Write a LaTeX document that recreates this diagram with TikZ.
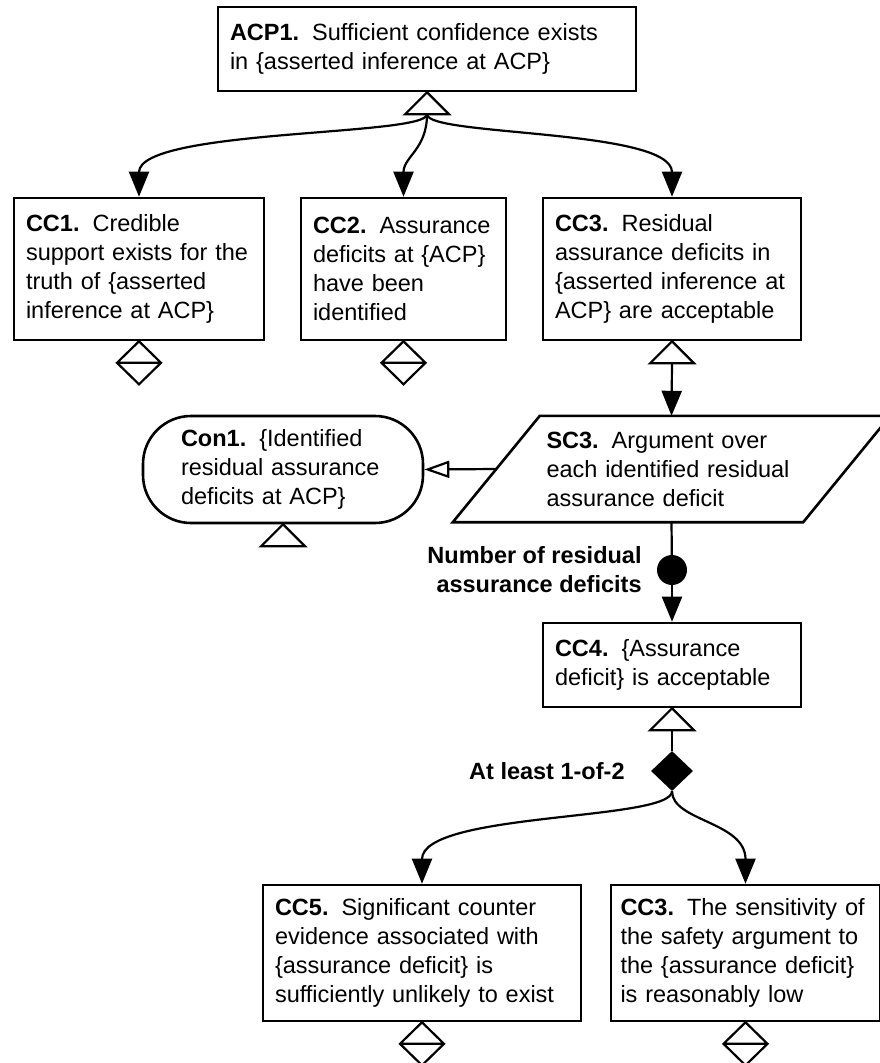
\documentclass[tikz,border=0pt]{standalone}
\usepackage{fontspec}
\setmainfont{Liberation Sans}
\usetikzlibrary{positioning,shapes.geometric,arrows.meta}

\newcommand{\gsnfont}{\fontsize{23.5}{29}\selectfont}
\newcommand{\gid}[1]{\textbf{#1}\nobreak\hspace{13pt}}

\tikzset{
  claim/.style={draw, line width=2.6pt, align=left, inner xsep=12pt, inner ysep=0pt},
  context/.style={claim, rounded corners=48pt, inner xsep=38pt},
  strategy/.style={align=left, inner xsep=50pt, inner ysep=0pt},
  link/.style={line width=2.2pt, -{Triangle[length=25pt,width=20pt]}},
  ctxlink/.style={line width=2.2pt, -{Triangle[open,length=25pt,width=17pt,fill=white]}},
  gsnmark/.style={line width=2.2pt, line join=miter},
  annot/.style={font={\gsnfont\bfseries}, align=right, inner sep=0pt},
}

\begin{document}
\begin{tikzpicture}[x=1pt, y=-1pt, font=\gsnfont]
  \pgfmathsetmacro{\hw}{22}
  \useasboundingbox (0,0) rectangle (880,1063);
  %
  \node[claim, text width=394pt, minimum height=84pt] (acp1) at (427,49)
    {\gid{ACP1.}Sufficient confidence exists\\in \{asserted inference at ACP\}};
  \node[claim, text width=226pt, minimum height=142pt] (cc1) at (139,269)
    {\gid{CC1.}Credible\\support exists for the\\truth of \{asserted\\inference at ACP\}};
  \node[claim, text width=181pt, minimum height=142pt] (cc2) at (403.5,269)
    {\gid{CC2.}Assurance\\deficits at \{ACP\}\\have been\\identified};
  \node[claim, text width=234pt, minimum height=142pt] (cc3) at (672,269)
    {\gid{CC3.}Residual\\assurance deficits in\\\{asserted inference at\\ACP\} are acceptable};
  \node[strategy, text width=250pt, minimum height=106pt] (sc3) at (671.5,469)
    {\gid{SC3.}Argument over\\each identified residual\\assurance deficit};
  \node[context, text width=204pt, minimum height=107pt] (con1) at (283,469.5)
    {\gid{Con1.}\{Identified\\residual assurance\\deficits at ACP\}};
  \node[circle, fill, minimum size=30pt, inner sep=0pt] (multi) at (672,570) {};
  \node[annot, left=15pt of multi] {Number of residual\\assurance deficits};
  \node[claim, text width=234pt, minimum height=84pt] (cc4) at (672,665)
    {\gid{CC4.}\{Assurance\\deficit\} is acceptable};
  \node[diamond, fill, minimum width=42pt, minimum height=40pt, inner sep=0pt] (choice) at (672,771) {};
  \node[annot, left=26pt of choice] {At least 1-of-2};
  \node[claim, text width=294pt, minimum height=136pt] (cc5) at (422,953)
    {\gid{CC5.}Significant counter\\evidence associated with\\\{assurance deficit\} is\\sufficiently unlikely to exist};
  \node[claim, text width=250pt, inner xsep=9.5pt, minimum height=136pt] (cc6) at (745.5,953)
    {\gid{CC3.}The sensitivity of\\the safety argument to\\the \{assurance deficit\}\\is reasonably low};
  %
  \draw[line width=2.6pt] ([xshift=43.5pt]sc3.north west) -- ([xshift=43.5pt]sc3.north east)
    -- ([xshift=-43.5pt]sc3.south east) -- ([xshift=-43.5pt]sc3.south west) -- cycle;
  %
  \foreach \n in {acp1,cc3,con1,cc4} {
    \draw[gsnmark] (\n.south) -- ++(-\hw,\hw) -- ++(2*\hw,0) -- cycle;
    \coordinate (\n-base) at ([yshift=-\hw pt]\n.south);
  }
  \foreach \n in {cc1,cc2,cc5,cc6} {
    \draw[gsnmark] (\n.south) -- ++(-\hw,21.5) -- ++(\hw,21.5) -- ++(\hw,-21.5) -- cycle
      (\n.south) ++(-\hw,21.5) -- ++(2*\hw,0);
  }
  %
  \draw[link] (acp1-base) .. controls +(0,22) and +(0,-68) .. (cc1.north);
  \draw[link] (acp1-base) .. controls +(0,35) and +(0,-40) .. (cc2.north);
  \draw[link] (acp1-base) .. controls +(0,22) and +(0,-68) .. (cc3.north);
  \draw[link] (cc3-base) -- (sc3.north);
  \draw[ctxlink] (sc3.west) -- (con1.east);
  \draw[line width=2.2pt] (sc3.south) -- (multi);
  \draw[link] (multi) -- (cc4.north);
  \draw[line width=2.2pt] (cc4-base) -- (choice.north);
  \draw[link] (choice.south) .. controls +(0,30) and +(0,-72) .. (cc5.north);
  \draw[link] (choice.south) .. controls +(0,30) and +(0,-62) .. (cc6.north);
\end{tikzpicture}
\end{document}
